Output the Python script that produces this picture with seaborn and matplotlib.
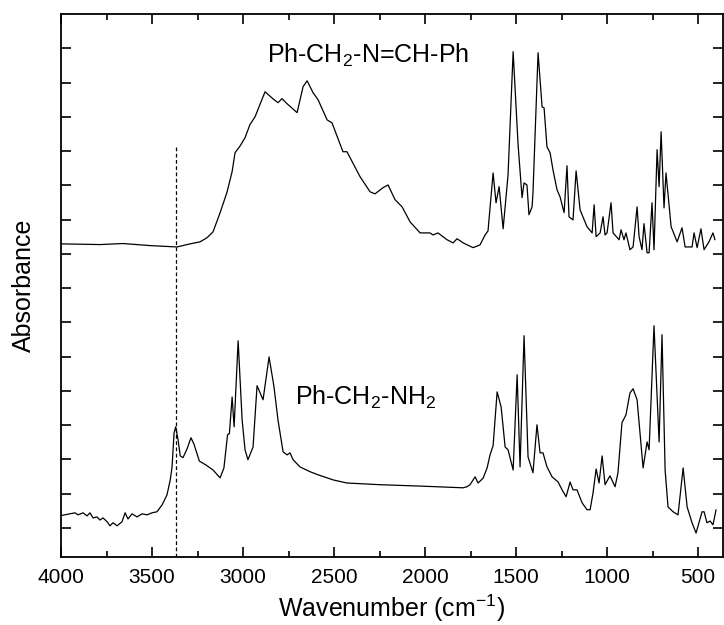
import numpy as np
import pandas as pd
import seaborn as sns
import matplotlib
matplotlib.use("Agg")
import matplotlib.pyplot as plt
from matplotlib.ticker import MultipleLocator

### --- data (wavenumber in cm-1, absorbance in arbitrary units) --- ###
imine_wn = [4000, 3786, 3659, 3511, 3363, 3291, 3236, 3198, 3165, 3126,
            3088, 3060, 3044, 3016, 2989, 2962, 2934, 2879, 2841, 2808,
            2786, 2758, 2703, 2670, 2648, 2615, 2588, 2538, 2511, 2451,
            2429, 2357, 2302, 2275, 2231, 2203, 2165, 2126, 2082, 2027,
            1973, 1956, 1929, 1879, 1846, 1824, 1791, 1736, 1698, 1670,
            1654, 1626, 1610, 1593, 1571, 1544, 1516, 1489, 1467, 1456,
            1440, 1429, 1412, 1407, 1379, 1357, 1346, 1330, 1313, 1297,
            1275, 1258, 1236, 1220, 1209, 1187, 1170, 1148, 1110, 1082,
            1071, 1060, 1038, 1022, 1011, 1000, 978, 967, 934, 923,
            907, 896, 874, 857, 835, 824, 808, 797, 780, 769,
            753, 742, 725, 714, 703, 687, 676, 648, 615, 588,
            571, 533, 522, 505, 484, 467, 440, 418, 407]
imine_abs = [9.29, 9.27, 9.30, 9.24, 9.20, 9.29, 9.35, 9.47, 9.64, 10.20,
             10.80, 11.40, 11.95, 12.15, 12.39, 12.77, 13.00, 13.73, 13.55, 13.41,
             13.53, 13.38, 13.12, 13.88, 14.05, 13.70, 13.50, 12.91, 12.82, 11.98,
             11.98, 11.25, 10.81, 10.75, 10.93, 11.01, 10.58, 10.37, 9.93, 9.61,
             9.61, 9.55, 9.61, 9.41, 9.32, 9.44, 9.32, 9.18, 9.26, 9.55,
             9.67, 11.36, 10.49, 10.96, 9.73, 11.30, 14.90, 12.20, 10.64, 11.07,
             11.01, 10.14, 10.37, 10.78, 14.87, 13.29, 13.26, 12.12, 11.95, 11.45,
             10.87, 10.66, 10.20, 11.57, 10.08, 9.99, 11.42, 10.28, 9.79, 9.61,
             10.43, 9.50, 9.61, 10.08, 9.55, 9.61, 10.49, 9.61, 9.41, 9.70,
             9.41, 9.61, 9.12, 9.20, 10.37, 9.50, 9.12, 9.88, 9.03, 9.03,
             10.49, 9.12, 12.04, 10.96, 12.56, 10.34, 11.36, 9.79, 9.35, 9.76,
             9.20, 9.20, 9.61, 9.18, 9.73, 9.12, 9.35, 9.61, 9.41]

amine_wn = [4000, 3951, 3923, 3907, 3879, 3857, 3841, 3824, 3802, 3786,
            3769, 3747, 3731, 3714, 3692, 3665, 3648, 3632, 3610, 3582,
            3555, 3527, 3500, 3473, 3445, 3418, 3400, 3390, 3379, 3370,
            3357, 3345, 3330, 3308, 3286, 3270, 3240, 3205, 3165, 3126,
            3105, 3085, 3075, 3060, 3049, 3027, 3005, 2989, 2973, 2945,
            2923, 2890, 2857, 2830, 2808, 2780, 2758, 2742, 2725, 2687,
            2632, 2588, 2505, 2429, 2357, 2247, 2027, 1791, 1770, 1753,
            1725, 1709, 1681, 1659, 1643, 1626, 1604, 1582, 1560, 1544,
            1516, 1494, 1478, 1456, 1434, 1407, 1385, 1368, 1352, 1330,
            1302, 1269, 1247, 1225, 1203, 1187, 1165, 1137, 1110, 1093,
            1077, 1060, 1044, 1027, 1011, 984, 956, 940, 918, 896,
            874, 857, 835, 802, 780, 769, 742, 714, 698, 681,
            665, 637, 610, 582, 560, 533, 511, 478, 467, 451,
            434, 418, 401]
amine_abs = [1.36, 1.41, 1.44, 1.38, 1.44, 1.35, 1.44, 1.29, 1.32, 1.23,
             1.29, 1.18, 1.06, 1.15, 1.06, 1.18, 1.44, 1.26, 1.41, 1.32,
             1.41, 1.38, 1.44, 1.47, 1.67, 1.96, 2.40, 2.78, 3.77, 3.95,
             3.57, 3.10, 3.05, 3.30, 3.63, 3.45, 2.95, 2.84, 2.69, 2.46,
             2.75, 3.72, 3.75, 4.82, 3.95, 6.46, 4.15, 3.28, 2.99, 3.36,
             5.15, 4.74, 5.99, 5.12, 4.15, 3.22, 3.13, 3.19, 2.99, 2.78,
             2.64, 2.55, 2.40, 2.31, 2.29, 2.26, 2.22, 2.17, 2.20, 2.26,
             2.49, 2.31, 2.45, 2.75, 3.13, 3.40, 4.97, 4.53, 3.36, 3.28,
             2.69, 5.47, 2.78, 6.61, 3.07, 2.61, 4.01, 3.19, 3.19, 2.78,
             2.49, 2.34, 2.11, 1.91, 2.34, 2.11, 2.11, 1.73, 1.53, 1.53,
             2.02, 2.72, 2.31, 3.10, 2.26, 2.52, 2.20, 2.61, 4.07, 4.30,
             4.94, 5.06, 4.74, 2.75, 3.51, 3.28, 6.90, 3.51, 6.64, 2.69,
             1.61, 1.47, 1.38, 2.75, 1.61, 1.15, 0.85, 1.47, 1.47, 1.15,
             1.20, 1.09, 1.53]

imine_label = r"Ph-CH$_\mathregular{2}$-N=CH-Ph"
amine_label = r"Ph-CH$_\mathregular{2}$-NH$_\mathregular{2}$"
nh_band = 3370  # dashed marker through the N-H stretch

### --- style --- ###
sns.set_style("ticks")
plt.rcParams["font.family"] = ["Liberation Sans", "DejaVu Sans"]
plt.rcParams["mathtext.fontset"] = "custom"
plt.rcParams["mathtext.rm"] = "Liberation Sans"
plt.rcParams["axes.linewidth"] = 1.3
# plain black frame and text instead of seaborn's dark grey
for key in ["text.color", "axes.labelcolor", "axes.edgecolor", "xtick.color", "ytick.color"]:
    plt.rcParams[key] = "black"

fig = plt.figure(figsize=(7.24, 6.25), dpi=100)
ax = fig.add_axes([0.0843, 0.1088, 0.9143, 0.8688])

sns.lineplot(x=imine_wn, y=imine_abs, ax=ax, color="black", lw=0.9, estimator=None, sort=False)
sns.lineplot(x=amine_wn, y=amine_abs, ax=ax, color="black", lw=0.9, estimator=None, sort=False)

ax.set_xlim(4000, 363)
ax.set_ylim(0.15, 16.0)
ax.vlines(nh_band, 0.15, 12.15, colors="black", linestyles=(0, (3, 2)), lw=0.9)

ax.text(2313, 14.58, imine_label, fontsize=18, ha="center", va="baseline")
ax.text(2327, 4.59, amine_label, fontsize=18, ha="center", va="baseline")

# ticks everywhere, pointing in, no y numbers
ax.xaxis.set_major_locator(MultipleLocator(500))
ax.xaxis.set_minor_locator(MultipleLocator(250))
ax.set_yticks(range(1, 16))
ax.set_yticklabels([])
ax.tick_params(axis="both", which="major", direction="in", length=7, width=1.2,
               top=True, right=True, labelsize=15, pad=8)
ax.tick_params(axis="x", which="minor", direction="in", length=4, width=1.2, top=True)

ax.set_xlabel(r"Wavenumber (cm$^\mathregular{-1}$)", fontsize=18, labelpad=4)
ax.set_ylabel("Absorbance", fontsize=18, labelpad=10)

fig.savefig("out.png", dpi=100)
